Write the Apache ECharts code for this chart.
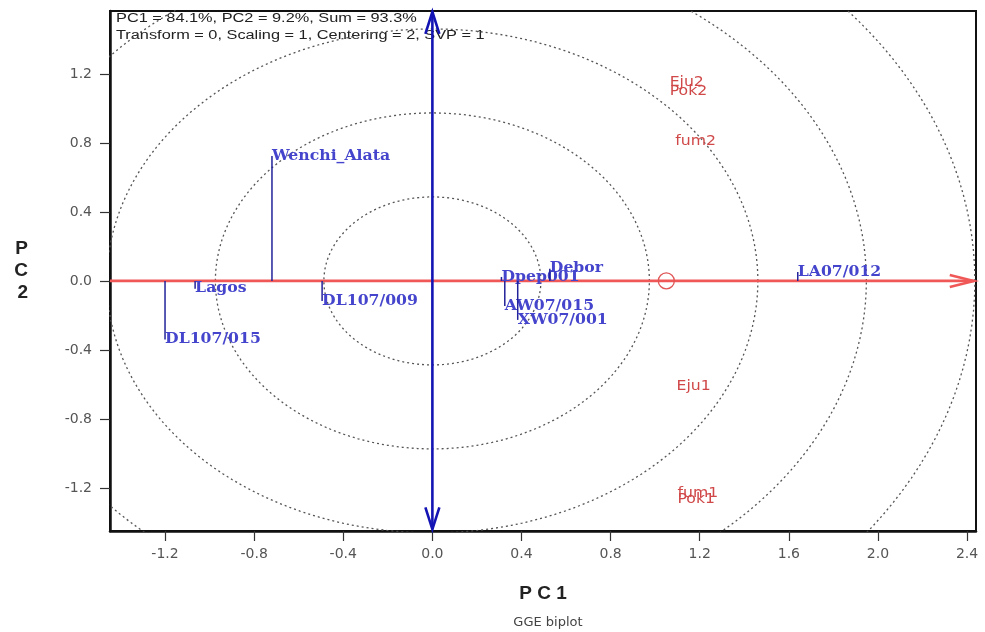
<!DOCTYPE html>
<html>
<head>
<meta charset="utf-8">
<script src="https://cdn.jsdelivr.net/npm/echarts/dist/echarts.min.js"></script>
<style>html,body{margin:0;padding:0;background:#fff}#chart{width:985px;height:632px}</style>
</head>
<body>
<div id="chart"></div>
<script>
// ---- data ----
const genotypes = ['Wenchi_Alata','Lagos','DL107/015','DL107/009','Dpep001','Debor','AW07/015','XW07/001','LA07/012'];
const genoPC1 = [-0.72,-1.065,-1.2,-0.495,0.31,0.527,0.325,0.383,1.64];
const genoPC2 = [0.725,-0.046,-0.34,-0.116,0.023,0.07,-0.145,-0.226,0.052];
const environments = ['Eju2','Pok2','fum2','Eju1','fum1','Pok1'];
const envPC1 = [1.065,1.065,1.09,1.096,1.1,1.1];
const envPC2 = [1.154,1.10,0.81,-0.609,-1.23,-1.264];
const xTicks = [-1.2,-0.8,-0.4,0.0,0.4,0.8,1.2,1.6,2.0,2.4];
const yTicks = [-1.2,-0.8,-0.4,0.0,0.4,0.8,1.2];
const ringRadii = [0.487,0.974,1.461,1.948,2.435];
const aeaAxis = [[-1.447,0],[2.43,0]];
const pc2Axis = [[0,1.56],[0,-1.44]];
const aeaMarker = [1.05,0];
const infoLines = ['PC1 = 84.1%, PC2 = 9.2%, Sum = 93.3%','Transform = 0, Scaling = 1, Centering = 2, SVP = 1'];

const chart = echarts.init(document.getElementById('chart'));

const ringSeries = ringRadii.map(r => {
  const pts = [];
  for (let i = 0; i <= 360; i += 2) {
    const t = i * Math.PI / 180;
    pts.push([r * Math.cos(t), r * Math.sin(t)]);
  }
  return {type:'line', data:pts, showSymbol:false, symbol:'none', clip:true, silent:true, z:1,
    lineStyle:{color:'#555', width:1.3, type:[2,3]}};
});

function chevron(tip, dirx, diry, len, half) {
  const bx = tip[0] - dirx*len, by = tip[1] - diry*len;
  const px = -diry, py = dirx;
  return [[bx + px*half, by + py*half], tip, [bx - px*half, by - py*half]];
}

const option = {
  animation:false,
  backgroundColor:'#fff',
  grid:{left:110, top:11, width:866, height:520, show:true, borderColor:'#111', borderWidth:2},
  title:{text:'GGE biplot', left:543, textAlign:'center', top:611,
    textStyle:{fontSize:13, fontWeight:'normal', color:'#444', fontFamily:'DejaVu Sans'}},
  xAxis:{type:'value', min:-1.447, max:2.44, splitLine:{show:false},
    axisLine:{show:true, onZero:false, lineStyle:{color:'#111', width:2.5}},
    axisTick:{show:true, customValues:xTicks, length:10, lineStyle:{color:'#333', width:1.2}},
    axisLabel:{customValues:xTicks, formatter:v=>v.toFixed(1), color:'#555', fontSize:14, fontFamily:'DejaVu Sans', margin:16},
    name:'P C 1', nameLocation:'middle', nameGap:53,
    nameTextStyle:{fontSize:19, fontWeight:'bold', color:'#222', fontFamily:'Liberation Sans'}},
  yAxis:{type:'value', min:-1.45, max:1.565, splitLine:{show:false},
    axisLine:{show:true, onZero:false, lineStyle:{color:'#111', width:2.5}},
    axisTick:{show:true, customValues:yTicks, length:10, lineStyle:{color:'#333', width:1.2}},
    axisLabel:{customValues:yTicks, formatter:v=>v.toFixed(1), color:'#555', fontSize:14, fontFamily:'DejaVu Sans', margin:18},
    name:'P\nC\n2', nameLocation:'middle', nameGap:82, nameRotate:0,
    nameTextStyle:{fontSize:19, fontWeight:'bold', color:'#222', fontFamily:'Liberation Sans', lineHeight:22}},
  graphic:[
    {type:'text', left:116, top:13, scaleX:1.36, style:{text:infoLines[0], font:'12px "Liberation Sans"', fill:'#222'}},
    {type:'text', left:116, top:30, scaleX:1.36, style:{text:infoLines[1], font:'12px "Liberation Sans"', fill:'#222'}}
  ],
  series:[
    ...ringSeries,
    {type:'custom', z:3, clip:false, silent:true, data:[[0,0]],
      renderItem:(params, api) => {
        const a = api.coord(aeaAxis[0]), b = api.coord(aeaAxis[1]);
        const m = api.coord(aeaMarker);
        return {type:'group', children:[
          {type:'line', shape:{x1:a[0], y1:a[1], x2:b[0], y2:b[1]}, style:{stroke:'#f05858', lineWidth:2.8}},
          {type:'polyline', shape:{points:chevron(b,1,0,24,6)}, style:{stroke:'#f05858', lineWidth:2.6, fill:null}},
          {type:'circle', shape:{cx:m[0], cy:m[1], r:8}, style:{stroke:'#e05555', lineWidth:1.3, fill:null}}
        ]};
      }},
    {type:'custom', z:4, clip:false, silent:true, data:[[0,0]],
      renderItem:(params, api) => {
        const a = api.coord(pc2Axis[0]), b = api.coord(pc2Axis[1]);
        return {type:'group', children:[
          {type:'line', shape:{x1:a[0], y1:a[1], x2:b[0], y2:b[1]}, style:{stroke:'#1414b4', lineWidth:2.6}},
          {type:'polyline', shape:{points:chevron(a,0,-1,22,7)}, style:{stroke:'#1414b4', lineWidth:2.6, fill:null}},
          {type:'polyline', shape:{points:chevron(b,0,1,22,7)}, style:{stroke:'#1414b4', lineWidth:2.6, fill:null}}
        ]};
      }},
    {type:'custom', z:5, clip:false, silent:true,
      data:genotypes.map((g,i)=>[genoPC1[i], genoPC2[i]]),
      renderItem:(params, api) => {
        const i = params.dataIndex;
        const p = api.coord([genoPC1[i], genoPC2[i]]);
        const o = api.coord([genoPC1[i], 0]);
        return {type:'group', children:[
          {type:'line', shape:{x1:o[0], y1:o[1], x2:p[0], y2:p[1]}, style:{stroke:'#22229a', lineWidth:1.5}},
          {type:'text', x:p[0], y:p[1], scaleX:1.12, style:{text:genotypes[i], fill:'#4444cc', font:'bold 14px "DejaVu Serif"', align:'left', verticalAlign:'middle', textAlign:'left', textVerticalAlign:'middle'}}
        ]};
      }},
    {type:'custom', z:5, clip:false, silent:true,
      data:environments.map((e,i)=>[envPC1[i], envPC2[i]]),
      renderItem:(params, api) => {
        const i = params.dataIndex;
        const p = api.coord([envPC1[i], envPC2[i]]);
        return {type:'text', x:p[0], y:p[1], scaleX:1.12, style:{text:environments[i], fill:'#d04848', font:'14px "DejaVu Sans"', align:'left', verticalAlign:'middle', textAlign:'left', textVerticalAlign:'middle'}};
      }}
  ]
};
chart.setOption(option);
</script>
</body>
</html>
